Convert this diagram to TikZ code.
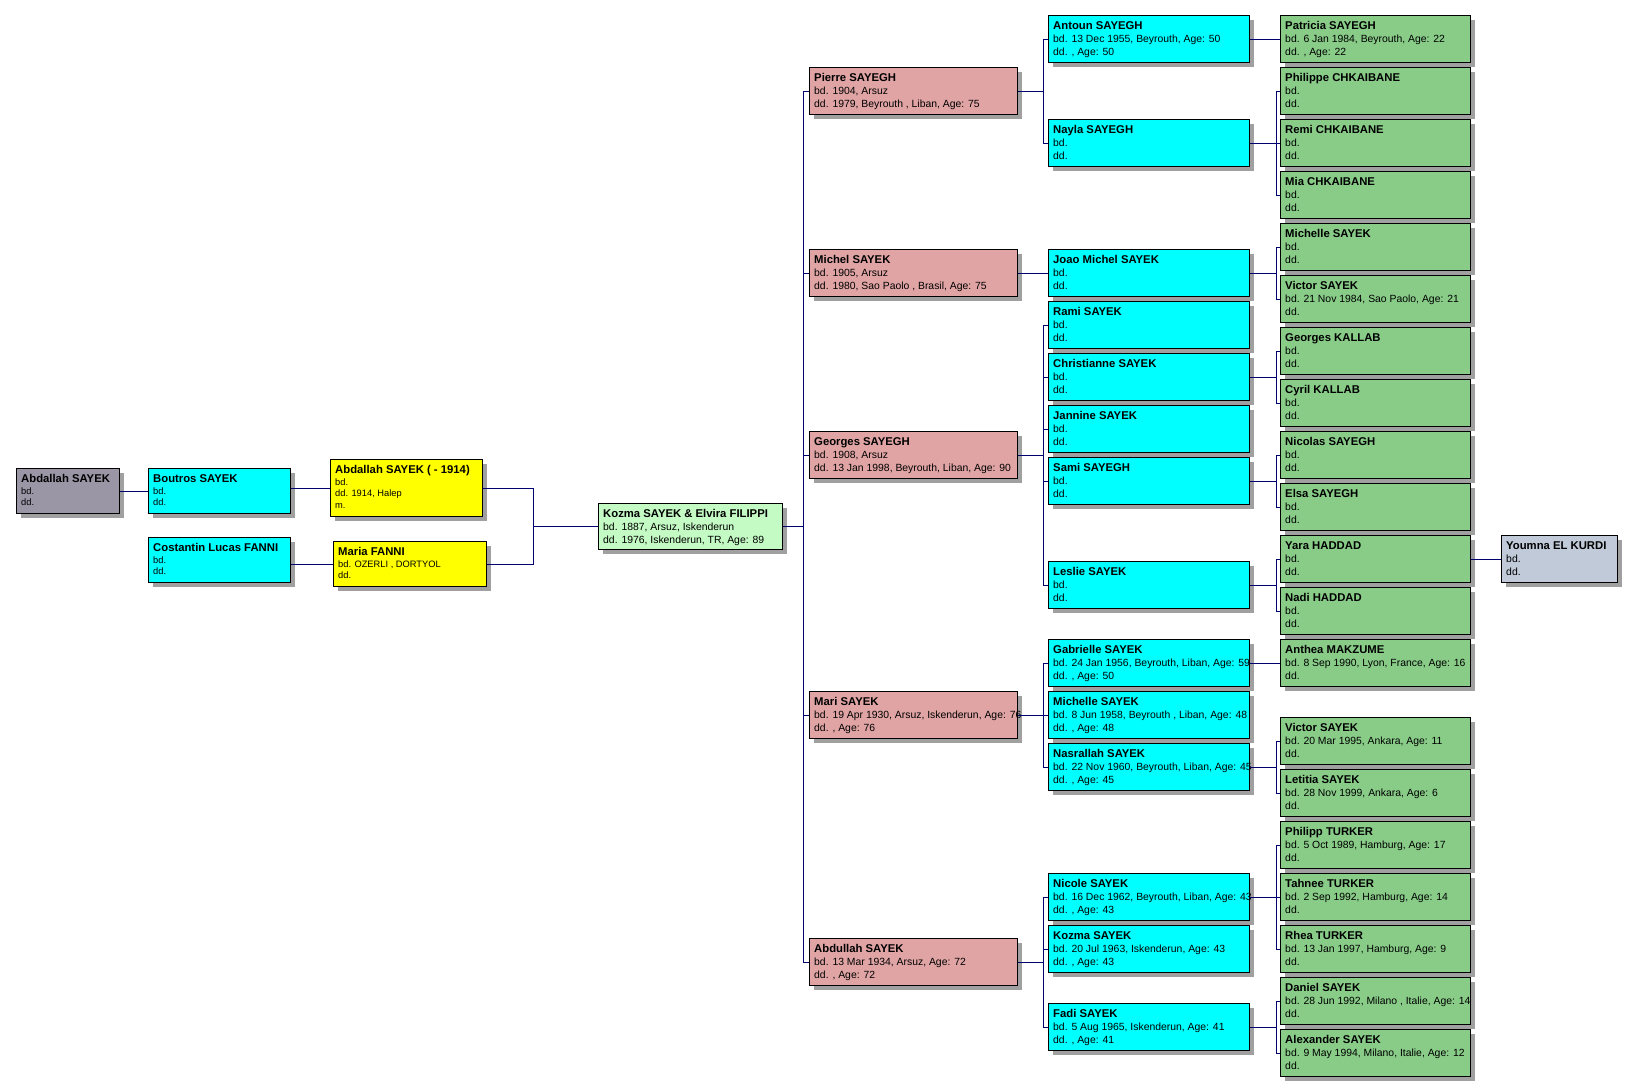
\documentclass[tikz,border=0pt]{standalone}
\usepackage{fontspec}
\setmainfont{Liberation Sans}
\usetikzlibrary{shadows}
\definecolor{greyc}{RGB}{154,150,166}
\definecolor{cyanc}{RGB}{0,255,255}
\definecolor{yellowc}{RGB}{255,255,0}
\definecolor{pinkc}{RGB}{224,164,164}
\definecolor{greenc}{RGB}{136,204,136}
\definecolor{kozc}{RGB}{196,250,196}
\definecolor{youc}{RGB}{192,202,216}
\definecolor{shadowc}{RGB}{160,160,160}
\definecolor{linec}{RGB}{0,0,110}
\newcommand{\nm}[1]{{\bfseries\fontsize{11.3}{13}\selectfont #1}}
\newcommand{\personbox}[8]{%
  \node[pbox, fill=#6, minimum width=#4pt, minimum height=#5pt] (#1) at (#2,#3) {};
  \node[#8] (#1t) at (#2+5,#3+5) {\rule{0pt}{9pt}#7};}
\newcommand{\famlink}[3]{%
  \draw[conn] (#1.east) -- (#1.east -| #2);
  \foreach \c in {#3} {\draw[conn] (#1.east -| #2) -- (#2 |- \c.west) -- (\c.west);}}
\tikzset{
  pbox/.style={draw=black, line width=1pt, inner sep=0pt, anchor=north west,
    drop shadow={shadow xshift=4pt, shadow yshift=-4pt, fill=shadowc, opacity=1}},
  ptxt/.style={anchor=north west, inner sep=0pt, align=left, font=\fontsize{10.4}{13}\selectfont},
  ptxtL/.style={anchor=north west, inner sep=0pt, align=left, font=\fontsize{9.3}{11.8}\selectfont},
  conn/.style={draw=linec, line width=1pt}
}
\begin{document}
\begin{tikzpicture}[x=1pt,y=-1pt]
\useasboundingbox[fill=white] (0,0) rectangle (1629,1090);
% ---- left ancestors
\personbox{ag}{16}{468}{103}{45}{greyc}{\nm{Abdallah SAYEK}\\bd.\\dd.}{ptxtL}
\personbox{bo}{148}{468}{142}{45}{cyanc}{\nm{Boutros SAYEK}\\bd.\\dd.}{ptxtL}
\personbox{co}{148}{537}{142}{45}{cyanc}{\nm{Costantin Lucas FANNI}\\bd.\\dd.}{ptxtL}
\personbox{ya}{330}{459}{152}{57}{yellowc}{\nm{Abdallah SAYEK ( - 1914)}\\bd.\\dd. 1914, Halep\\m.}{ptxtL}
\personbox{mf}{333}{541}{153}{45}{yellowc}{\nm{Maria FANNI}\\bd. OZERLI , DORTYOL\\dd.}{ptxtL}
\personbox{kz}{598}{503}{184}{46}{kozc}{\nm{Kozma SAYEK \& Elvira FILIPPI}\\bd. 1887, Arsuz, Iskenderun\\dd. 1976, Iskenderun, TR, Age: 89}{ptxt}
% ---- children (pink)
\personbox{pi}{809}{67}{208}{47}{pinkc}{\nm{Pierre SAYEGH}\\bd. 1904, Arsuz\\dd. 1979, Beyrouth , Liban, Age: 75}{ptxt}
\personbox{mi}{809}{249}{208}{47}{pinkc}{\nm{Michel SAYEK}\\bd. 1905, Arsuz\\dd. 1980, Sao Paolo , Brasil, Age: 75}{ptxt}
\personbox{ge}{809}{431}{208}{47}{pinkc}{\nm{Georges SAYEGH}\\bd. 1908, Arsuz\\dd. 13 Jan 1998, Beyrouth, Liban, Age: 90}{ptxt}
\personbox{ma}{809}{691}{208}{47}{pinkc}{\nm{Mari SAYEK}\\bd. 19 Apr 1930, Arsuz, Iskenderun, Age: 76\\dd. , Age: 76}{ptxt}
\personbox{ab}{809}{938}{208}{47}{pinkc}{\nm{Abdullah SAYEK}\\bd. 13 Mar 1934, Arsuz, Age: 72\\dd. , Age: 72}{ptxt}
% ---- grandchildren (cyan)
\personbox{an}{1048}{15}{201}{47}{cyanc}{\nm{Antoun SAYEGH}\\bd. 13 Dec 1955, Beyrouth, Age: 50\\dd. , Age: 50}{ptxt}
\personbox{na}{1048}{119}{201}{47}{cyanc}{\nm{Nayla SAYEGH}\\bd.\\dd.}{ptxt}
\personbox{jm}{1048}{249}{201}{47}{cyanc}{\nm{Joao Michel SAYEK}\\bd.\\dd.}{ptxt}
\personbox{ra}{1048}{301}{201}{47}{cyanc}{\nm{Rami SAYEK}\\bd.\\dd.}{ptxt}
\personbox{ch}{1048}{353}{201}{47}{cyanc}{\nm{Christianne SAYEK}\\bd.\\dd.}{ptxt}
\personbox{ja}{1048}{405}{201}{47}{cyanc}{\nm{Jannine SAYEK}\\bd.\\dd.}{ptxt}
\personbox{sa}{1048}{457}{201}{47}{cyanc}{\nm{Sami SAYEGH}\\bd.\\dd.}{ptxt}
\personbox{le}{1048}{561}{201}{47}{cyanc}{\nm{Leslie SAYEK}\\bd.\\dd.}{ptxt}
\personbox{gb}{1048}{639}{201}{47}{cyanc}{\nm{Gabrielle SAYEK}\\bd. 24 Jan 1956, Beyrouth, Liban, Age: 59\\dd. , Age: 50}{ptxt}
\personbox{ms}{1048}{691}{201}{47}{cyanc}{\nm{Michelle SAYEK}\\bd. 8 Jun 1958, Beyrouth , Liban, Age: 48\\dd. , Age: 48}{ptxt}
\personbox{ns}{1048}{743}{201}{47}{cyanc}{\nm{Nasrallah SAYEK}\\bd. 22 Nov 1960, Beyrouth, Liban, Age: 45\\dd. , Age: 45}{ptxt}
\personbox{ni}{1048}{873}{201}{47}{cyanc}{\nm{Nicole SAYEK}\\bd. 16 Dec 1962, Beyrouth, Liban, Age: 43\\dd. , Age: 43}{ptxt}
\personbox{ko}{1048}{925}{201}{47}{cyanc}{\nm{Kozma SAYEK}\\bd. 20 Jul 1963, Iskenderun, Age: 43\\dd. , Age: 43}{ptxt}
\personbox{fa}{1048}{1003}{201}{47}{cyanc}{\nm{Fadi SAYEK}\\bd. 5 Aug 1965, Iskenderun, Age: 41\\dd. , Age: 41}{ptxt}
% ---- great-grandchildren (green)
\personbox{pa}{1280}{15}{190}{47}{greenc}{\nm{Patricia SAYEGH}\\bd. 6 Jan 1984, Beyrouth, Age: 22\\dd. , Age: 22}{ptxt}
\personbox{ph}{1280}{67}{190}{47}{greenc}{\nm{Philippe CHKAIBANE}\\bd.\\dd.}{ptxt}
\personbox{re}{1280}{119}{190}{47}{greenc}{\nm{Remi CHKAIBANE}\\bd.\\dd.}{ptxt}
\personbox{mc}{1280}{171}{190}{47}{greenc}{\nm{Mia CHKAIBANE}\\bd.\\dd.}{ptxt}
\personbox{mh}{1280}{223}{190}{47}{greenc}{\nm{Michelle SAYEK}\\bd.\\dd.}{ptxt}
\personbox{vi}{1280}{275}{190}{47}{greenc}{\nm{Victor SAYEK}\\bd. 21 Nov 1984, Sao Paolo, Age: 21\\dd.}{ptxt}
\personbox{gk}{1280}{327}{190}{47}{greenc}{\nm{Georges KALLAB}\\bd.\\dd.}{ptxt}
\personbox{cy}{1280}{379}{190}{47}{greenc}{\nm{Cyril KALLAB}\\bd.\\dd.}{ptxt}
\personbox{nc}{1280}{431}{190}{47}{greenc}{\nm{Nicolas SAYEGH}\\bd.\\dd.}{ptxt}
\personbox{el}{1280}{483}{190}{47}{greenc}{\nm{Elsa SAYEGH}\\bd.\\dd.}{ptxt}
\personbox{yh}{1280}{535}{190}{47}{greenc}{\nm{Yara HADDAD}\\bd.\\dd.}{ptxt}
\personbox{nh}{1280}{587}{190}{47}{greenc}{\nm{Nadi HADDAD}\\bd.\\dd.}{ptxt}
\personbox{am}{1280}{639}{190}{47}{greenc}{\nm{Anthea MAKZUME}\\bd. 8 Sep 1990, Lyon, France, Age: 16\\dd.}{ptxt}
\personbox{vs}{1280}{717}{190}{47}{greenc}{\nm{Victor SAYEK}\\bd. 20 Mar 1995, Ankara, Age: 11\\dd.}{ptxt}
\personbox{ls}{1280}{769}{190}{47}{greenc}{\nm{Letitia SAYEK}\\bd. 28 Nov 1999, Ankara, Age: 6\\dd.}{ptxt}
\personbox{pt}{1280}{821}{190}{47}{greenc}{\nm{Philipp TURKER}\\bd. 5 Oct 1989, Hamburg, Age: 17\\dd.}{ptxt}
\personbox{tt}{1280}{873}{190}{47}{greenc}{\nm{Tahnee TURKER}\\bd. 2 Sep 1992, Hamburg, Age: 14\\dd.}{ptxt}
\personbox{rt}{1280}{925}{190}{47}{greenc}{\nm{Rhea TURKER}\\bd. 13 Jan 1997, Hamburg, Age: 9\\dd.}{ptxt}
\personbox{ds}{1280}{977}{190}{47}{greenc}{\nm{Daniel SAYEK}\\bd. 28 Jun 1992, Milano , Italie, Age: 14\\dd.}{ptxt}
\personbox{as}{1280}{1029}{190}{47}{greenc}{\nm{Alexander SAYEK}\\bd. 9 May 1994, Milano, Italie, Age: 12\\dd.}{ptxt}
% ---- youmna
\personbox{yk}{1501}{535}{116}{47}{youc}{\nm{Youmna EL KURDI}\\bd.\\dd.}{ptxt}
% ---- bars
\coordinate (barK) at (533,0);
\coordinate (barP) at (803,0);
\coordinate (barC) at (1043,0);
\coordinate (barG) at (1276,0);
% ---- connectors left
\draw[conn] (ag.east) -- (bo.west);
\draw[conn] (ya.west -| bo.east) -- (ya.west);
\draw[conn] (mf.west -| co.east) -- (mf.west);
\draw[conn] (ya.east) -- (ya.east -| barK) -- (mf.east -| barK) -- (mf.east);
\draw[conn] (barK |- kz.west) -- (kz.west);
% ---- connectors right
\famlink{kz}{barP}{pi,mi,ge,ma,ab}
\famlink{pi}{barC}{an,na}
\draw[conn] (mi.east) -- (jm.west);
\famlink{ge}{barC}{ra,ch,ja,sa,le}
\famlink{ma}{barC}{gb,ms,ns}
\famlink{ab}{barC}{ni,ko,fa}
\draw[conn] (an.east) -- (pa.west);
\famlink{na}{barG}{ph,re,mc}
\famlink{jm}{barG}{mh,vi}
\famlink{ch}{barG}{gk,cy}
\famlink{sa}{barG}{nc,el}
\famlink{le}{barG}{yh,nh}
\draw[conn] (gb.east) -- (am.west);
\famlink{ns}{barG}{vs,ls}
\famlink{ni}{barG}{pt,tt,rt}
\famlink{fa}{barG}{ds,as}
\draw[conn] (yh.east) -- (yk.west);
\end{tikzpicture}
\end{document}
